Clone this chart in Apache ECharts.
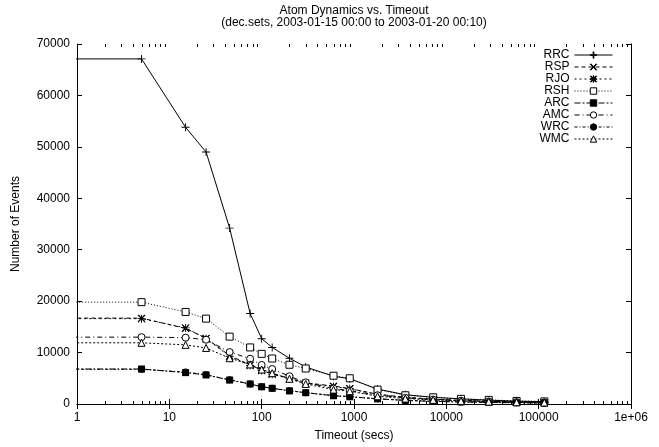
<!DOCTYPE html>
<html>
<head>
<meta charset="utf-8">
<script src="https://cdn.jsdelivr.net/npm/echarts@6/dist/echarts.min.js"></script>
<style>
  html, body { margin: 0; padding: 0; background: #fff; }
  #chart { width: 659px; height: 447px; }
</style>
</head>
<body>
<div id="chart"></div>
<script>
// Timeout values in seconds (the first one sits left of the visible axis so the curves start flat).
const timeouts = [0.5, 5, 15, 25, 45, 75, 100, 130, 200, 300, 600, 900, 1800, 3600, 7200, 14400, 28800, 57600, 115200];

// Number of events per timeout for each atom kind.
const RRC = [67100, 67100, 53800, 49000, 34200, 17600, 12700, 11000, 8900, 7200, 5400, 4900, 2900, 1800, 1300, 1000, 750, 550, 450];
const RSP = [16700, 16700, 14700, 12800, 9400, 7600, 6600, 5900, 5000, 4100, 3500, 3000, 1900, 1300, 950, 700, 550, 400, 300];
const RJO = [16600, 16600, 14800, 12700, 9300, 7500, 6500, 5800, 4900, 4000, 3400, 2950, 1850, 1250, 900, 680, 520, 380, 290];
const RSH = [19800, 19800, 17900, 16600, 13100, 11000, 9750, 8850, 7630, 6900, 5500, 5000, 2800, 1700, 1300, 1000, 800, 600, 500];
const ARC = [6800, 6800, 6100, 5650, 4650, 3900, 3350, 3050, 2550, 2200, 1600, 1400, 1000, 700, 500, 400, 300, 250, 200];
const AMC = [13000, 13000, 12900, 12500, 10100, 8800, 7600, 6800, 5400, 4200, 3000, 2600, 1700, 1200, 850, 650, 500, 380, 300];
const WRC = [6750, 6750, 6200, 5700, 4700, 3900, 3350, 3050, 2600, 2200, 1650, 1450, 1000, 720, 520, 410, 310, 260, 210];
const WMC = [11900, 11900, 11500, 10900, 8900, 7700, 6700, 6000, 4900, 3900, 2800, 2500, 1500, 1050, 800, 600, 450, 350, 280];

// Axis tick labels and minor tick positions.
const xTickLabels = ['1', '10', '100', '1000', '10000', '100000', '1e+06'];
const xMinorTicks = [2, 3, 4, 5, 6, 7, 8, 9,
  20, 30, 40, 50, 60, 70, 80, 90,
  200, 300, 400, 500, 600, 700, 800, 900,
  2000, 3000, 4000, 5000, 6000, 7000, 8000, 9000,
  20000, 30000, 40000, 50000, 60000, 70000, 80000, 90000,
  200000, 300000, 400000, 500000, 600000, 700000, 800000, 900000];

const titleLines = ['Atom Dynamics vs. Timeout', '(dec.sets, 2003-01-15 00:00 to 2003-01-20 00:10)'];

const FONT = "'Liberation Sans', Arial, Helvetica, sans-serif";
const GRID = { left: 77, right: 28, top: 44, bottom: 39 };
const W = 659, H = 447;
const plotCenterX = GRID.left + (W - GRID.left - GRID.right) / 2;

// Marker outlines (filled paths)
const PLUS = 'path://M0,6.2 H14 V7.8 H0 Z M6.2,0 H7.8 V14 H6.2 Z';
const CROSS = 'path://M0,1.2 L1.2,0 L14,12.8 L12.8,14 Z M12.8,0 L14,1.2 L1.2,14 L0,12.8 Z';
const STAR = 'path://M0,6.2 H14 V7.8 H0 Z M6.2,0 H7.8 V14 H6.2 Z M0,1.2 L1.2,0 L14,12.8 L12.8,14 Z M12.8,0 L14,1.2 L1.2,14 L0,12.8 Z';

function pairs(values) {
  return timeouts.map((t, i) => i === 0 ? { value: [t, values[i]], symbol: 'none' } : [t, values[i]]);
}

function lineSeries(name, values, dash, symbol, size, fill) {
  return {
    name: name,
    type: 'line',
    xAxisIndex: 0,
    yAxisIndex: 0,
    data: pairs(values),
    symbol: symbol,
    symbolSize: size,
    showAllSymbol: true,
    clip: true,
    lineStyle: { color: '#000', width: 1, type: dash },
    itemStyle: { color: fill, borderColor: '#000', borderWidth: fill === '#fff' ? 1 : 0 },
    emphasis: { disabled: true }
  };
}

const axisLineStyle = { show: true, lineStyle: { color: '#000', width: 1 } };
const tickStyle = { show: true, inside: true, length: 5, lineStyle: { color: '#000', width: 1 } };

const chart = echarts.init(document.getElementById('chart'), null, { renderer: 'canvas' });

const option = {
  animation: false,
  backgroundColor: '#fff',
  textStyle: { fontFamily: FONT },
  title: {
    text: titleLines.join('\n'),
    left: plotCenterX,
    top: 5,
    padding: 0,
    textAlign: 'center',
    textStyle: { fontFamily: FONT, fontSize: 12, fontWeight: 'normal', color: '#000', lineHeight: 12 }
  },
  grid: GRID,
  legend: {
    data: ['RRC', 'RSP', 'RJO', 'RSH', 'ARC', 'AMC', 'WRC', 'WMC'],
    orient: 'vertical',
    align: 'right',
    right: 46,
    top: 49,
    padding: 0,
    itemWidth: 38,
    itemHeight: 8,
    itemGap: 0,
    selectedMode: false,
    lineStyle: { width: 1 },
    itemStyle: { borderWidth: 1 },
    textStyle: { fontFamily: FONT, fontSize: 12, color: '#000' }
  },
  xAxis: [
    {
      type: 'log', logBase: 10, min: 1, max: 1e6, splitNumber: 6,
      position: 'bottom',
      axisLine: axisLineStyle,
      axisTick: tickStyle,
      splitLine: { show: false },
      axisLabel: {
        color: '#000', fontSize: 12, fontFamily: FONT, margin: 8,
        formatter: v => xTickLabels[Math.round(Math.log10(v))]
      },
      name: 'Timeout (secs)',
      nameLocation: 'middle',
      nameGap: 26,
      nameTextStyle: { color: '#000', fontSize: 12, fontFamily: FONT }
    },
    {
      type: 'log', logBase: 10, min: 1, max: 1e6, splitNumber: 6,
      position: 'top',
      axisLine: axisLineStyle,
      axisTick: tickStyle,
      splitLine: { show: false },
      axisLabel: { show: false }
    }
  ],
  yAxis: [
    {
      type: 'value', min: 0, max: 70000, interval: 10000,
      position: 'left',
      axisLine: axisLineStyle,
      axisTick: tickStyle,
      splitLine: { show: false },
      axisLabel: { color: '#000', fontSize: 12, fontFamily: FONT, margin: 7, formatter: v => String(v) },
      name: 'Number of Events',
      nameLocation: 'middle',
      nameGap: 55,
      nameRotate: 90,
      nameTextStyle: { color: '#000', fontSize: 12, fontFamily: FONT }
    },
    {
      type: 'value', min: 0, max: 70000, interval: 10000,
      position: 'right',
      axisLine: axisLineStyle,
      axisTick: tickStyle,
      splitLine: { show: false },
      axisLabel: { show: false }
    }
  ],
  series: [
    // minor log ticks on bottom and top edges of the plot frame
    {
      name: 'minorTicks',
      type: 'custom',
      xAxisIndex: 0,
      yAxisIndex: 0,
      silent: true,
      data: xMinorTicks.map(v => [v, 0]),
      renderItem: function (params, api) {
        const x = Math.round(api.coord([api.value(0), 0])[0]) + 0.5;
        const cs = params.coordSys;
        const yb = cs.y + cs.height;
        const yt = cs.y;
        return {
          type: 'group',
          children: [
            { type: 'line', shape: { x1: x, y1: yb, x2: x, y2: yb - 3 }, style: { stroke: '#000', lineWidth: 1 } },
            { type: 'line', shape: { x1: x, y1: yt, x2: x, y2: yt + 3 }, style: { stroke: '#000', lineWidth: 1 } }
          ]
        };
      }
    },
    lineSeries('RRC', RRC, 'solid', PLUS, 8, '#000'),
    lineSeries('RSP', RSP, [4, 3], CROSS, 7, '#000'),
    lineSeries('RJO', RJO, [2, 3], STAR, 8, '#000'),
    lineSeries('RSH', RSH, [1, 2], 'rect', 7, '#fff'),
    lineSeries('ARC', ARC, [6, 2, 2, 2], 'rect', 7, '#000'),
    lineSeries('AMC', AMC, [5, 3, 1, 3], 'circle', 7, '#fff'),
    lineSeries('WRC', WRC, [3, 2, 1, 2], 'circle', 7, '#000'),
    lineSeries('WMC', WMC, [2, 2], 'triangle', 7, '#fff')
  ]
};

chart.setOption(option);
</script>
</body>
</html>
